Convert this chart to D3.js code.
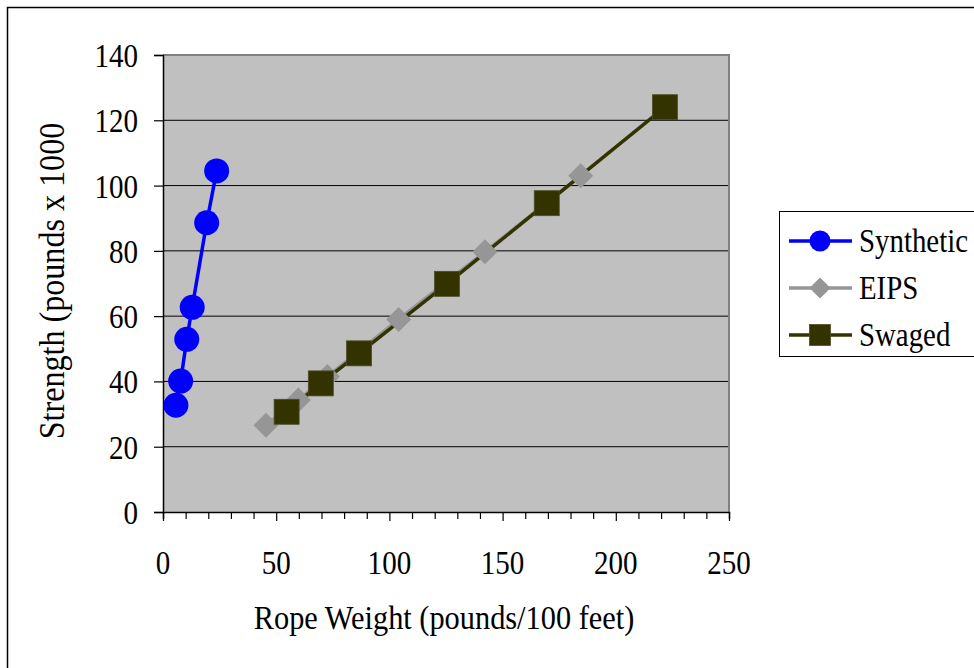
<!DOCTYPE html>
<html><head><meta charset="utf-8">
<script src="https://cdn.jsdelivr.net/npm/d3@7"></script>
<style>html,body{margin:0;padding:0;background:#fff;}svg{display:block;}text{font-family:"Liberation Serif","Times New Roman",serif;fill:#000;}</style>
</head><body>
<script>
const seriesNames = ["Synthetic", "EIPS", "Swaged"];
const synthX = [5.7, 7.8, 10.5, 12.9, 19.3, 23.7];
const synthY = [32.7, 40.1, 52.9, 62.7, 88.6, 104.5];
const eipsX = [45.5, 59.8, 72.6, 104.1, 142.2, 184.5];
const eipsY = [26.6, 34.3, 41.5, 59.0, 79.7, 103.0];
const swagedX = [54.6, 69.7, 86.6, 125.4, 169.5, 221.7];
const swagedY = [30.7, 39.4, 48.6, 69.9, 94.6, 124.0];
const xTicks = [0, 50, 100, 150, 200, 250];
const yTicks = [0, 20, 40, 60, 80, 100, 120, 140];
const xTitle = "Rope Weight (pounds/100 feet)";
const yTitle = "Strength (pounds x 1000";

const W = 974, H = 668;
const L = 163, R = 729, T = 55, B = 512;
const K = 0.88; // horizontal condensing of the serif font
const svg = d3.select("body").append("svg").attr("width", W).attr("height", H);
svg.append("rect").attr("x", 7.5).attr("y", 7.5).attr("width", W + 10).attr("height", H + 10)
  .attr("fill", "#fff").attr("stroke", "#000").attr("stroke-width", 1.5);

const x = d3.scaleLinear().domain([0, 250]).range([L, R]);
const y = d3.scaleLinear().domain([0, 140]).range([B, T]);

function label(parent, tx, ty, str, size, anchor, rot) {
  const g = parent.append("g").attr("transform", `translate(${tx},${ty})${rot ? " rotate(" + rot + ")" : ""} scale(${K},1)`);
  g.append("text").attr("x", 0).attr("y", 0).attr("text-anchor", anchor).attr("font-size", size).text(str);
  return g;
}

svg.append("rect").attr("x", L).attr("y", T).attr("width", R - L).attr("height", B - T).attr("fill", "#c0c0c0");
svg.append("g").selectAll("line").data(yTicks.filter(v => v > 0 && v < 140)).join("line")
  .attr("x1", L).attr("x2", R).attr("y1", d => y(d)).attr("y2", d => y(d))
  .attr("stroke", "#000").attr("stroke-width", 1);
svg.append("path").attr("d", `M${L},${T}H${R}V${B}`).attr("fill", "none").attr("stroke", "#808080").attr("stroke-width", 2);

const xMinor = d3.range(0, 251, 10);
const gx = svg.append("g").attr("transform", `translate(0,${B})`)
  .call(d3.axisBottom(x).tickValues(xMinor).tickSize(7).tickFormat(""));
gx.select(".domain").attr("stroke", "#000").attr("stroke-width", 1.5);
gx.selectAll(".tick line").attr("stroke", "#000").attr("stroke-width", 1.2)
  .attr("y2", d => d % 50 === 0 ? 9 : 7);
const xl = svg.append("g");
xTicks.forEach(d => label(xl, x(d), 574, d, 33, "middle"));

const gy = svg.append("g").attr("transform", `translate(${L},0)`)
  .call(d3.axisLeft(y).tickValues(yTicks).tickSize(9).tickFormat(""));
gy.select(".domain").attr("stroke", "#000").attr("stroke-width", 1.5);
gy.selectAll(".tick line").attr("stroke", "#000").attr("stroke-width", 1.2);
const yl = svg.append("g");
yTicks.forEach(d => label(yl, 138, y(d) + 12, d, 33, "end"));

label(svg, 444, 629, xTitle, 34.5, "middle");
label(svg, 64, 281, yTitle, 36.5, "middle", -90);

const series = [
  {name: seriesNames[0], xs: synthX, ys: synthY, color: "#0000ff", fill: "#0000ff", shape: "circle"},
  {name: seriesNames[1], xs: eipsX, ys: eipsY, color: "#969696", fill: "#969696", shape: "diamond"},
  {name: seriesNames[2], xs: swagedX, ys: swagedY, color: "#333300", fill: "#333300", shape: "square"}
];
const line = d3.line().x(d => x(d[0])).y(d => y(d[1]));
series.forEach(s => {
  const pts = s.xs.map((v, i) => [v, s.ys[i]]);
  svg.append("path").datum(pts).attr("d", line).attr("fill", "none").attr("stroke", s.color).attr("stroke-width", 3.5);
});
function marker(g, shape, cx, cy, size, fill) {
  if (shape === "circle") g.append("circle").attr("cx", cx).attr("cy", cy).attr("r", size / 2).attr("fill", fill);
  else if (shape === "diamond") { const h = size / 2; g.append("path").attr("d", `M${cx},${cy - h}L${cx + h},${cy}L${cx},${cy + h}L${cx - h},${cy}Z`).attr("fill", fill); }
  else g.append("rect").attr("x", cx - size / 2).attr("y", cy - size / 2).attr("width", size).attr("height", size).attr("fill", fill).attr("stroke", "#4d4d26").attr("stroke-width", 0.8);
}
series.forEach(s => {
  const g = svg.append("g");
  s.xs.forEach((v, i) => marker(g, s.shape, x(v), y(s.ys[i]), 25, s.fill));
});

const lg = svg.append("g");
lg.append("rect").attr("x", 779.5).attr("y", 211.5).attr("width", 220).attr("height", 145).attr("fill", "#fff").attr("stroke", "#000").attr("stroke-width", 1);
series.forEach((s, i) => {
  const cy = 241 + i * 47;
  lg.append("line").attr("x1", 789).attr("x2", 852).attr("y1", cy).attr("y2", cy).attr("stroke", s.color).attr("stroke-width", 3.5);
  marker(lg, s.shape, 820, cy, 21, s.fill);
  label(lg, 859, cy + 11, s.name, 32.8, "start");
});
</script>
</body></html>
